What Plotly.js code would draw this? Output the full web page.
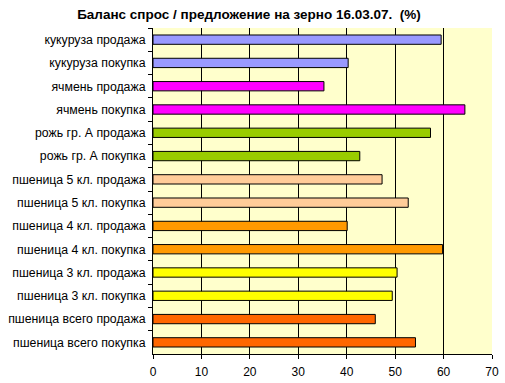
<!DOCTYPE html>
<html><head><meta charset="utf-8">
<script src="https://cdn.plot.ly/plotly-3.0.1.min.js"></script>
<style>html,body{margin:0;padding:0;background:#fff}</style>
</head><body>
<div id="chart" style="width:505px;height:383px"></div>
<script>
const categories = [
  "кукуруза продажа", "кукуруза покупка",
  "ячмень продажа", "ячмень покупка",
  "рожь гр. А продажа", "рожь гр. А покупка",
  "пшеница 5 кл. продажа", "пшеница 5 кл. покупка",
  "пшеница 4 кл. продажа", "пшеница 4 кл. покупка",
  "пшеница 3 кл. продажа", "пшеница 3 кл. покупка",
  "пшеница всего продажа", "пшеница всего покупка"
];
const values = [59.5, 40.3, 35.3, 64.4, 57.3, 42.7, 47.3, 52.7, 40.1, 59.8, 50.4, 49.4, 45.9, 54.2];
const barColors = [
  "#9999FF", "#9999FF", "#FF00FF", "#FF00FF", "#99CC00", "#99CC00",
  "#FFCC99", "#FFCC99", "#FF9900", "#FF9900", "#FFFF00", "#FFFF00",
  "#FF6600", "#FF6600"
];
const xTicks = [0, 10, 20, 30, 40, 50, 60, 70];

Plotly.newPlot("chart", [{
  type: "bar", orientation: "h",
  y: categories, x: values,
  marker: {color: barColors, line: {color: "#000", width: 1}},
  hoverinfo: "skip"
}], {
  width: 505, height: 383,
  margin: {l: 153, r: 13, t: 28, b: 29, pad: 0},
  paper_bgcolor: "#fff", plot_bgcolor: "#FFFFCC",
  bargap: 0.6,
  showlegend: false,
  font: {family: "Liberation Sans, Arial, sans-serif", size: 12, color: "#000"},
  title: {text: "<b>Баланс спрос / предложение на зерно 16.03.07.  (%)</b>",
          font: {size: 13.5, family: "Liberation Sans, Arial, sans-serif", color: "#000"},
          x: 0.493, xanchor: "center", y: 0.962, yanchor: "middle"},
  xaxis: {range: [0, 70], tickvals: xTicks, ticktext: xTicks.map(String),
          showgrid: true, gridcolor: "#000", gridwidth: 1,
          showline: true, linecolor: "#000", linewidth: 1,
          ticks: "outside", ticklen: 4, tickcolor: "#000", zeroline: false,
          ticklabelstandoff: 3, tickfont: {size: 12}},
  yaxis: {autorange: "reversed", type: "category",
          showline: true, linecolor: "#000", linewidth: 1,
          ticks: "outside", tickson: "boundaries", ticklen: 4, tickcolor: "#000",
          showgrid: false, ticklabelstandoff: 4, tickfont: {size: 12.3}}
}, {displayModeBar: false, staticPlot: true});
</script>
</body></html>
